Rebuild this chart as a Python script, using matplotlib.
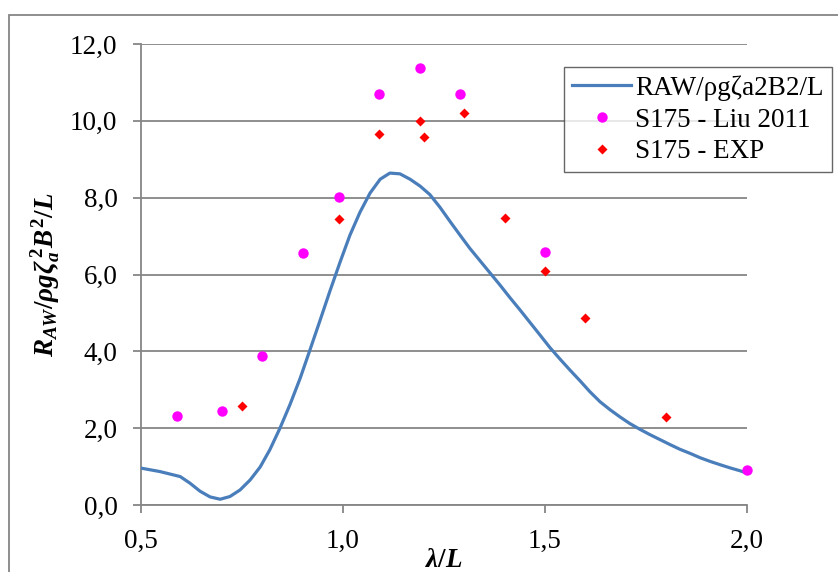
import matplotlib
matplotlib.use("Agg")
import matplotlib.pyplot as plt
from matplotlib.patches import Rectangle

# calculated curve
lam_curve = [0.500, 0.547, 0.597, 0.621, 0.646, 0.671, 0.696, 0.720, 0.745, 0.770,
             0.795, 0.819, 0.844, 0.869, 0.894, 0.918, 0.943, 0.968, 0.993, 1.017,
             1.042, 1.067, 1.092, 1.116, 1.141, 1.166, 1.191, 1.215, 1.240, 1.265,
             1.290, 1.314, 1.339, 1.364, 1.389, 1.413, 1.438, 1.463, 1.488, 1.512,
             1.537, 1.562, 1.587, 1.611, 1.636, 1.661, 1.686, 1.710, 1.735, 1.760,
             1.785, 1.810, 1.834, 1.860, 1.884, 1.910, 1.933, 1.960, 1.983, 2.000]
raw_curve = [0.96, 0.87, 0.74, 0.57, 0.36, 0.21, 0.15, 0.22, 0.39, 0.65,
             0.99, 1.44, 2.00, 2.62, 3.30, 4.03, 4.80, 5.58, 6.33, 7.02,
             7.62, 8.12, 8.48, 8.64, 8.62, 8.48, 8.30, 8.08, 7.75, 7.38,
             7.02, 6.68, 6.36, 6.04, 5.72, 5.40, 5.08, 4.75, 4.42, 4.10,
             3.80, 3.51, 3.23, 2.95, 2.69, 2.48, 2.29, 2.12, 1.97, 1.83,
             1.70, 1.57, 1.45, 1.34, 1.23, 1.13, 1.05, 0.96, 0.89, 0.83]

# Liu 2011
lam_liu = [0.59, 0.70, 0.80, 0.90, 0.99, 1.09, 1.19, 1.29, 1.50, 2.00]
raw_liu = [2.32, 2.45, 3.88, 6.56, 8.02, 10.70, 11.38, 10.70, 6.59, 0.91]

# experiment
lam_exp = [0.75, 0.99, 1.09, 1.19, 1.20, 1.30, 1.40, 1.50, 1.60, 1.80]
raw_exp = [2.58, 7.45, 9.66, 10.00, 9.58, 10.20, 7.47, 6.09, 4.87, 2.29]

xticks = [0.5, 1.0, 1.5, 2.0]
xtick_labels = ["0,5", "1,0", "1,5", "2,0"]
yticks = [0, 2, 4, 6, 8, 10, 12]
ytick_labels = ["0,0", "2,0", "4,0", "6,0", "8,0", "10,0", "12,0"]

plt.rcParams['font.family'] = ['Liberation Serif', 'DejaVu Serif']
plt.rcParams['mathtext.fontset'] = 'custom'
plt.rcParams['mathtext.it'] = 'Liberation Serif:bold:italic'
plt.rcParams['mathtext.rm'] = 'Liberation Serif:bold'
plt.rcParams['mathtext.bf'] = 'Liberation Serif:bold'

grey = '#868686'
fs = 19.5

fig = plt.figure(figsize=(8.38, 5.72), dpi=100)
ax = fig.add_axes([141/838, 1 - 505/572, 606/838, 461/572])

# outer chart frame
fig.patches.append(Rectangle((9/838, -0.1), 1.2, 1.1 - 15/572,
                             transform=fig.transFigure, fill=False,
                             edgecolor=grey, linewidth=1.3, clip_on=False))

ax.plot(lam_curve, raw_curve, color='#4A7EBB', lw=2.3, label='RAW/ρgζa2B2/L',
        zorder=3, solid_joinstyle='round')
ax.plot(lam_liu, raw_liu, 'o', color='#FF00FF', ms=7.5, mec='none',
        label='S175 - Liu 2011', zorder=4, clip_on=False)
ax.plot(lam_exp, raw_exp, 'D', color='#FF0000', ms=5.5, mec='none',
        label='S175 - EXP', zorder=4, clip_on=False)

ax.set_xlim(0.5, 2.0)
ax.set_ylim(0, 12)
ax.set_xticks(xticks)
ax.set_xticklabels(xtick_labels)
ax.set_yticks(yticks)
ax.set_yticklabels(ytick_labels)
ax.yaxis.grid(True, color=grey, lw=1.3)
ax.set_axisbelow(True)
for s in ['top', 'right']:
    ax.spines[s].set_visible(False)
for s in ['left', 'bottom']:
    ax.spines[s].set_color(grey)
    ax.spines[s].set_linewidth(1.3)
ax.tick_params(axis='both', direction='out', length=6, width=1.3, color=grey,
               labelsize=fs, pad=11)

ax.set_xlabel(r'$\lambda/L$', fontsize=fs, labelpad=-4)
ax.set_ylabel(r'$R_{AW}/\rho g\zeta_a^{\,2}B^2/L$', fontsize=fs, labelpad=6)

leg = ax.legend(loc='upper right', bbox_to_anchor=(832/838, 1 - 67/572),
                bbox_transform=fig.transFigure, borderaxespad=0, fontsize=fs,
                frameon=True, fancybox=False, handlelength=2.2, handletextpad=0.15,
                labelspacing=0.25, borderpad=0.3, numpoints=1)
leg.get_frame().set_edgecolor('#404040')
leg.get_frame().set_linewidth(1.0)

fig.savefig('out.png', dpi=100)
